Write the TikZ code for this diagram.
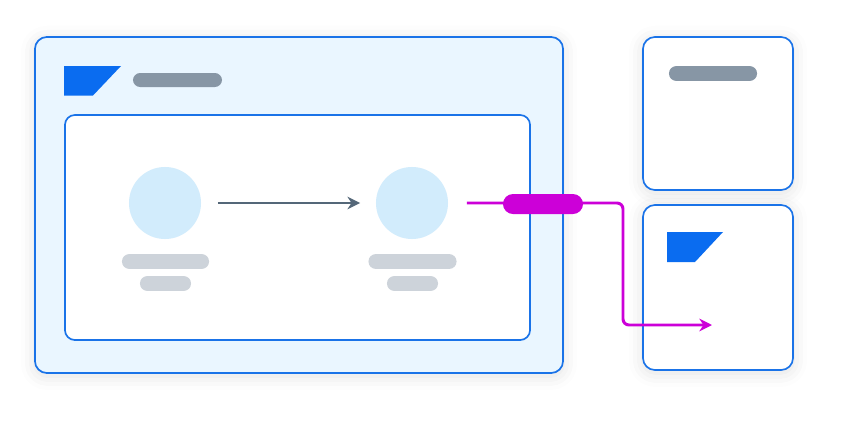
\documentclass[tikz,border=0pt]{standalone}
\usetikzlibrary{shadows.blur,arrows.meta}
\definecolor{frameblue}{HTML}{1A73E8}
\definecolor{paleblue}{HTML}{EAF6FF}
\definecolor{flagblue}{HTML}{0A6CF0}
\definecolor{dotblue}{HTML}{D2ECFC}
\definecolor{darkbar}{HTML}{8796A5}
\definecolor{lightbar}{HTML}{CDD3DA}
\definecolor{arrowgray}{HTML}{546778}
\definecolor{linkpink}{HTML}{CC00D8}
\begin{document}
\begin{tikzpicture}[x=0.025cm,y=-0.025cm]

% Define block styles
\tikzstyle{frame} = [rectangle,rounded corners=0.3cm,draw=frameblue,line width=1.2pt,inner sep=0pt,outer sep=0pt]
\tikzstyle{panel} = [frame,blur shadow={shadow xshift=0pt,shadow yshift=-2pt,shadow blur radius=10pt,shadow opacity=12}]
\tikzstyle{dot} = [circle,fill=dotblue,minimum size=1.8cm,inner sep=0pt,outer sep=0pt]
\tikzstyle{bar} = [rectangle,rounded corners=0.18cm,minimum height=0.37cm,inner sep=0pt,outer sep=0pt]
\tikzstyle{arrow} = [line width=2.1pt,-{Stealth[length=9pt,width=9pt]}]

\useasboundingbox (0,0) rectangle (844,422);

% Define nodes
\node (outer) [panel,fill=paleblue,minimum width=13.2cm,minimum height=8.4cm] at (299,205) {};
\node (inner) [frame,fill=white,rounded corners=0.25cm,minimum width=11.625cm,minimum height=5.625cm] at (297.5,227.5) {};
\node (topcard) [panel,fill=white,minimum width=3.75cm,minimum height=3.825cm] at (718,113.5) {};
\node (botcard) [panel,fill=white,minimum width=3.75cm,minimum height=4.125cm] at (718,287.5) {};

\fill[flagblue] (64,66) -- (121,66) -- (93,95.5) -- (64,95.5) -- cycle;
\fill[flagblue] (667,232) -- (723,232) -- (695,262) -- (667,262) -- cycle;
\node (title) [bar,fill=darkbar,minimum width=2.225cm,minimum height=0.35cm] at (177.5,80) {};
\node (cardtitle) [bar,fill=darkbar,minimum width=2.2cm] at (713,73.5) {};

\node (src) [dot] at (165,203) {};
\node (dst) [dot] at (412,203) {};
\node (srcname) [bar,fill=lightbar,minimum width=2.175cm] at (165.5,261.5) {};
\node (srcsub) [bar,fill=lightbar,minimum width=1.275cm] at (165.5,283.5) {};
\node (dstname) [bar,fill=lightbar,minimum width=2.2cm] at (412.5,261.5) {};
\node (dstsub) [bar,fill=lightbar,minimum width=1.275cm] at (412.5,283.5) {};

\coordinate (target) at (712,325);

% Draw arrows
\draw [arrow,draw=arrowgray,shorten <=12pt,shorten >=11.3pt] (src.east) -- (dst.west);
\draw [arrow,draw=linkpink,rounded corners=0.15cm,shorten <=13.5pt] (dst.east) -- (623,203) -- (623,325) -- (target);

\node (link) [bar,fill=linkpink,minimum width=2cm,minimum height=0.5cm,rounded corners=0.25cm] at (543,204) {};
\end{tikzpicture}
\end{document}
